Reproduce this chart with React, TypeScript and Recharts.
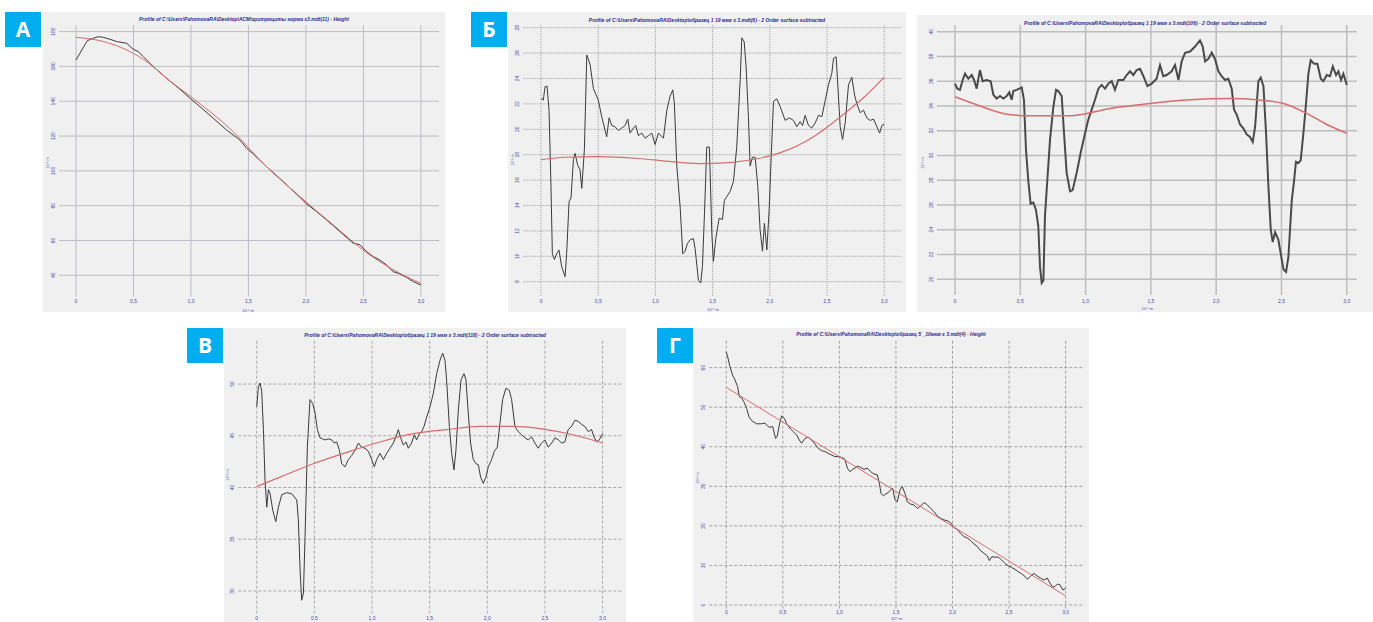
import React from "react";
import { LineChart, Line, XAxis, YAxis, CartesianGrid } from "recharts";

const xTicks = [0, 0.5, 1, 1.5, 2, 2.5, 3];

// А — эритроциты норма
const aYTicks = [40, 60, 80, 100, 120, 140, 160, 180];
const aBlackX = [0, 0.099, 0.151, 0.194, 0.238, 0.296, 0.354, 0.441, 0.499, 0.542, 0.586, 0.672, 0.788, 0.904, 1.0, 1.078, 1.194, 1.31, 1.426, 1.484, 1.542, 1.658, 1.803, 1.948, 2.006, 2.093, 2.18, 2.296, 2.412, 2.47, 2.528, 2.586, 2.643, 2.701, 2.759, 2.817, 2.875, 2.933, 3.0];
const aBlackY = [163.7, 174.8, 176.2, 177.1, 176.7, 175.6, 174.3, 173.3, 169.8, 168.5, 165.6, 159.9, 153.2, 146.9, 141.3, 136.9, 130.2, 123.5, 117.7, 113.0, 109.7, 102.4, 93.8, 84.8, 81.0, 76.6, 71.8, 65.1, 58.4, 57.5, 53.6, 50.7, 48.8, 45.9, 42.1, 40.8, 38.8, 36.4, 34.4];
const aRedX = [0, 0.209, 0.499, 0.672, 0.788, 1.0, 1.368, 1.658, 1.948, 2.238, 2.528, 2.817, 3.0];
const aRedY = [176.7, 174.8, 167.5, 159.9, 153.2, 142.6, 122.5, 102.4, 85.2, 68.9, 53.0, 41.1, 35.4];

// Б — образец 1, профиль 6
const bYTicks = [8, 10, 12, 14, 16, 18, 20, 22, 24, 26, 28];
const bBlackX = [0, 0.02, 0.035, 0.053, 0.07, 0.087, 0.099, 0.117, 0.137, 0.157, 0.18, 0.21, 0.224, 0.245, 0.262, 0.283, 0.297, 0.32, 0.341, 0.356, 0.379, 0.4, 0.429, 0.458, 0.501, 0.53, 0.574, 0.595, 0.618, 0.647, 0.676, 0.706, 0.735, 0.758, 0.778, 0.808, 0.828, 0.851, 0.88, 0.91, 0.939, 0.968, 0.997, 1.026, 1.07, 1.1, 1.128, 1.152, 1.166, 1.187, 1.216, 1.239, 1.259, 1.28, 1.303, 1.332, 1.347, 1.376, 1.396, 1.411, 1.429, 1.449, 1.472, 1.493, 1.507, 1.528, 1.557, 1.586, 1.603, 1.624, 1.653, 1.682, 1.711, 1.741, 1.755, 1.776, 1.793, 1.813, 1.828, 1.848, 1.872, 1.895, 1.915, 1.936, 1.953, 1.974, 1.994, 2.009, 2.032, 2.061, 2.09, 2.134, 2.169, 2.207, 2.236, 2.265, 2.286, 2.309, 2.338, 2.367, 2.397, 2.426, 2.455, 2.485, 2.513, 2.542, 2.557, 2.58, 2.595, 2.615, 2.636, 2.659, 2.688, 2.717, 2.741, 2.761, 2.79, 2.819, 2.848, 2.878, 2.907, 2.936, 2.96, 2.98, 3.0];
const bBlackY = [22.44, 22.3, 23.35, 23.4, 21.5, 15.5, 10.2, 9.75, 10.2, 10.5, 9.2, 8.4, 10.2, 14.3, 14.6, 17.6, 18.1, 17.2, 16.8, 15.35, 18.4, 25.85, 25.1, 23.2, 22.3, 21.0, 19.4, 20.9, 20.3, 20.2, 19.9, 20.1, 20.3, 20.8, 19.7, 20.1, 20.3, 19.5, 19.7, 19.3, 19.5, 19.7, 18.8, 19.7, 19.3, 21.5, 22.6, 23.1, 22.0, 17.1, 13.9, 10.2, 10.4, 11.0, 11.3, 11.4, 10.6, 8.1, 7.9, 9.2, 13.4, 18.6, 18.6, 11.8, 9.6, 11.4, 13.0, 12.9, 14.4, 14.7, 15.1, 15.9, 18.6, 23.9, 27.2, 26.9, 24.9, 21.0, 17.1, 17.8, 17.8, 15.5, 12.1, 10.4, 12.6, 10.5, 13.6, 17.1, 22.2, 22.4, 21.8, 20.7, 20.9, 20.7, 20.2, 20.6, 20.3, 21.1, 20.3, 20.1, 20.5, 21.1, 21.0, 22.3, 23.5, 24.4, 25.6, 25.7, 23.4, 20.2, 19.2, 20.5, 23.5, 24.1, 22.7, 22.0, 21.3, 21.5, 20.9, 20.7, 20.8, 20.2, 19.7, 20.3, 20.4];
const bRedX = [0, 0.21, 0.5, 0.85, 1.085, 1.376, 1.668, 1.9, 2.105, 2.397, 2.688, 2.834, 3.0];
const bRedY = [17.6, 17.8, 17.85, 17.7, 17.5, 17.3, 17.4, 17.7, 18.2, 19.5, 21.5, 22.6, 24.1];

// Б (справа) — образец 1, профиль 106
const cYTicks = [20, 22, 24, 26, 28, 30, 32, 34, 36, 38, 40];
const cBlackX = [0, 0.018, 0.038, 0.059, 0.077, 0.102, 0.128, 0.146, 0.166, 0.191, 0.212, 0.243, 0.273, 0.294, 0.319, 0.345, 0.37, 0.396, 0.416, 0.434, 0.447, 0.472, 0.511, 0.528, 0.544, 0.562, 0.579, 0.6, 0.62, 0.638, 0.651, 0.664, 0.677, 0.689, 0.707, 0.728, 0.753, 0.774, 0.791, 0.817, 0.835, 0.855, 0.881, 0.901, 0.932, 0.962, 0.996, 1.021, 1.047, 1.072, 1.098, 1.123, 1.149, 1.174, 1.2, 1.225, 1.251, 1.289, 1.315, 1.34, 1.366, 1.391, 1.417, 1.443, 1.473, 1.506, 1.544, 1.57, 1.595, 1.621, 1.659, 1.685, 1.711, 1.736, 1.762, 1.8, 1.838, 1.876, 1.897, 1.915, 1.94, 1.966, 1.991, 2.017, 2.042, 2.068, 2.093, 2.119, 2.137, 2.157, 2.183, 2.208, 2.234, 2.259, 2.28, 2.298, 2.323, 2.341, 2.362, 2.382, 2.4, 2.418, 2.433, 2.451, 2.476, 2.494, 2.515, 2.535, 2.553, 2.579, 2.596, 2.611, 2.63, 2.647, 2.668, 2.688, 2.706, 2.724, 2.75, 2.775, 2.801, 2.821, 2.847, 2.872, 2.893, 2.918, 2.936, 2.956, 2.974, 3.0];
const cBlackY = [35.8, 35.4, 35.3, 36.1, 36.6, 36.2, 36.5, 36.1, 35.4, 36.9, 36.0, 36.1, 36.0, 34.9, 34.6, 34.8, 34.6, 34.8, 35.1, 34.5, 35.2, 35.3, 35.5, 34.5, 30.4, 27.9, 26.1, 26.2, 25.6, 24.3, 21.0, 19.7, 19.9, 25.1, 28.0, 31.3, 33.9, 35.3, 35.2, 34.8, 31.8, 28.6, 27.1, 27.2, 28.6, 30.2, 31.8, 32.9, 33.7, 34.5, 35.4, 35.7, 35.4, 35.8, 36.0, 35.3, 36.1, 36.1, 36.5, 36.8, 36.5, 36.9, 37.0, 36.4, 35.6, 35.8, 36.2, 37.3, 36.4, 36.5, 36.8, 37.3, 36.1, 37.6, 38.3, 38.4, 38.8, 39.3, 38.8, 37.6, 37.8, 38.3, 37.8, 36.8, 36.4, 36.1, 36.2, 35.4, 33.7, 33.3, 32.5, 32.2, 31.7, 31.5, 31.1, 32.3, 36.0, 36.3, 35.6, 31.8, 27.5, 24.0, 23.0, 23.8, 23.2, 22.1, 20.8, 20.6, 21.8, 26.4, 27.9, 29.5, 29.4, 29.6, 31.8, 34.2, 36.6, 37.7, 37.4, 37.4, 36.2, 36.0, 36.5, 36.4, 37.2, 36.5, 36.8, 36.1, 36.6, 35.7];
const cRedX = [0, 0.166, 0.37, 0.574, 0.881, 1.187, 1.494, 1.8, 2.106, 2.31, 2.515, 2.693, 2.847, 3.0];
const cRedY = [34.75, 34.1, 33.4, 33.2, 33.2, 33.8, 34.2, 34.5, 34.6, 34.5, 34.2, 33.4, 32.5, 31.8];

// В — образец 1, профиль 118
const dYTicks = [30, 35, 40, 45, 50];
const dBlackX = [0, 0.014, 0.029, 0.043, 0.058, 0.072, 0.087, 0.101, 0.116, 0.139, 0.165, 0.188, 0.217, 0.26, 0.303, 0.347, 0.361, 0.376, 0.39, 0.405, 0.419, 0.439, 0.462, 0.486, 0.506, 0.526, 0.549, 0.572, 0.592, 0.621, 0.65, 0.673, 0.694, 0.717, 0.737, 0.766, 0.795, 0.824, 0.853, 0.882, 0.91, 0.939, 0.968, 0.997, 1.02, 1.04, 1.069, 1.098, 1.127, 1.156, 1.185, 1.208, 1.228, 1.249, 1.272, 1.295, 1.315, 1.344, 1.367, 1.387, 1.41, 1.431, 1.451, 1.474, 1.503, 1.532, 1.561, 1.59, 1.613, 1.633, 1.647, 1.671, 1.691, 1.711, 1.728, 1.749, 1.772, 1.798, 1.815, 1.835, 1.855, 1.879, 1.902, 1.922, 1.942, 1.965, 1.988, 2.009, 2.038, 2.061, 2.087, 2.11, 2.133, 2.162, 2.191, 2.211, 2.24, 2.269, 2.298, 2.327, 2.355, 2.384, 2.413, 2.442, 2.471, 2.5, 2.529, 2.558, 2.587, 2.616, 2.645, 2.673, 2.702, 2.731, 2.76, 2.789, 2.818, 2.847, 2.876, 2.905, 2.925, 2.948, 2.971, 3.0];
const dBlackY = [47.8, 49.7, 50.1, 49.3, 45.6, 40.7, 38.1, 39.8, 39.4, 37.8, 36.7, 38.1, 39.3, 39.5, 39.4, 38.8, 36.9, 32.0, 29.1, 29.8, 35.2, 43.9, 48.5, 48.1, 47.2, 45.6, 44.8, 44.7, 44.6, 44.7, 44.6, 44.3, 44.4, 43.6, 42.3, 42.0, 42.7, 43.1, 43.6, 44.3, 43.9, 43.8, 43.5, 42.7, 42.0, 42.7, 43.3, 42.7, 43.3, 43.8, 44.3, 44.9, 45.6, 44.8, 44.1, 44.4, 43.8, 44.3, 45.1, 44.6, 45.2, 45.4, 45.9, 46.8, 47.8, 49.1, 51.0, 52.3, 53.0, 52.3, 50.4, 45.9, 43.3, 41.7, 43.6, 47.5, 50.4, 51.0, 50.4, 47.2, 44.3, 42.7, 42.3, 42.2, 41.0, 40.4, 41.0, 42.0, 42.7, 43.5, 43.9, 46.2, 48.5, 49.6, 49.4, 48.5, 45.9, 45.4, 45.1, 44.8, 44.6, 44.9, 44.3, 43.8, 44.3, 44.6, 43.9, 44.3, 44.8, 44.6, 44.3, 44.4, 45.6, 45.9, 46.5, 46.4, 46.1, 45.9, 45.4, 45.6, 44.9, 44.4, 44.6, 45.2];
const dRedX = [0, 0.202, 0.491, 0.78, 1.069, 1.358, 1.647, 1.936, 2.225, 2.514, 2.746, 3.0];
const dRedY = [40.1, 41.0, 42.3, 43.4, 44.4, 45.2, 45.6, 45.9, 45.9, 45.6, 45.1, 44.3];

// Г — образец 5, профиль 4
const eYTicks = [0, 10, 20, 30, 40, 50, 60];
const eBlackX = [0, 0.012, 0.032, 0.056, 0.077, 0.1, 0.115, 0.136, 0.159, 0.18, 0.2, 0.224, 0.268, 0.312, 0.342, 0.363, 0.386, 0.41, 0.436, 0.451, 0.469, 0.489, 0.513, 0.533, 0.563, 0.592, 0.622, 0.645, 0.666, 0.696, 0.725, 0.755, 0.784, 0.813, 0.843, 0.872, 0.902, 0.931, 0.961, 0.99, 1.02, 1.049, 1.07, 1.093, 1.117, 1.138, 1.158, 1.188, 1.217, 1.247, 1.276, 1.306, 1.335, 1.353, 1.368, 1.388, 1.412, 1.432, 1.453, 1.471, 1.491, 1.512, 1.536, 1.556, 1.58, 1.6, 1.63, 1.659, 1.689, 1.718, 1.748, 1.777, 1.807, 1.836, 1.866, 1.895, 1.925, 1.954, 1.983, 2.013, 2.042, 2.072, 2.101, 2.131, 2.16, 2.19, 2.219, 2.249, 2.278, 2.308, 2.326, 2.346, 2.375, 2.405, 2.434, 2.464, 2.493, 2.523, 2.552, 2.582, 2.611, 2.641, 2.662, 2.691, 2.72, 2.75, 2.779, 2.809, 2.838, 2.862, 2.885, 2.906, 2.927, 2.95, 2.974, 3.0];
const eBlackY = [64.0, 62.8, 60.3, 58.1, 56.9, 55.2, 52.7, 52.3, 51.2, 49.7, 47.6, 46.6, 45.8, 45.8, 46.0, 45.3, 44.9, 45.1, 42.1, 42.7, 45.5, 47.8, 47.2, 45.9, 44.7, 43.8, 43.0, 41.7, 40.9, 42.1, 42.4, 41.7, 40.7, 39.6, 39.0, 38.8, 38.3, 37.9, 37.5, 37.5, 37.3, 36.8, 34.6, 33.7, 34.3, 34.6, 35.1, 34.8, 34.3, 34.6, 33.7, 33.1, 32.9, 30.8, 28.2, 27.6, 28.1, 28.4, 29.1, 29.5, 26.6, 26.1, 29.1, 29.9, 28.2, 26.1, 25.5, 25.3, 24.4, 25.0, 25.9, 25.3, 24.4, 23.6, 22.5, 21.9, 21.5, 21.3, 20.8, 19.6, 19.1, 18.1, 17.3, 16.9, 16.3, 15.4, 14.8, 13.7, 13.1, 12.4, 11.2, 12.2, 12.1, 12.1, 11.4, 10.5, 9.9, 9.5, 9.0, 8.4, 7.9, 7.2, 6.5, 7.3, 8.0, 7.3, 6.8, 6.3, 6.8, 5.5, 4.5, 4.7, 5.3, 5.1, 3.8, 4.2];
const eRedX = [0, 1.5, 3.0];
const eRedY = [55.0, 28.7, 2.3];

const TITLE_A = "Profile of C:\\Users\\PahomovaRA\\Desktop\\АСМ\\эритроциты норма x3.mdt(11) - Height";
const TITLE_B = "Profile of C:\\Users\\PahomovaRA\\Desktop\\образец 1 19 мкм x 3.mdt(6) - 2 Order surface subtracted";
const TITLE_C = "Profile of C:\\Users\\PahomovaRA\\Desktop\\образец 1 19 мкм x 3.mdt(106) - 2 Order surface subtracted";
const TITLE_D = "Profile of C:\\Users\\PahomovaRA\\Desktop\\образец 1 19 мкм x 3.mdt(118) - 2 Order surface subtracted";
const TITLE_E = "Profile of C:\\Users\\PahomovaRA\\Desktop\\образец 5 _10мкм x 3.mdt(4) - Height";

const pts = (xs: number[], ys: number[]) => xs.map((x, i) => ({ x, y: ys[i] }));
const fmtX = (v: number) => (v === 0 ? "0" : v.toFixed(1).replace(".", ","));

const TICK_COLOR = "#4a4aa8";
const FONT = "'Liberation Sans', Arial, sans-serif";

type Box = { l: number; t: number; r: number; b: number };

type PanelProps = {
  frame: Box;
  plot: Box;
  xDomain: [number, number];
  yDomain: [number, number];
  yTicks: number[];
  black: { x: number; y: number }[];
  red: { x: number; y: number }[];
  title: string;
  titleY: number;
  gridDash?: string;
  gridColor: string;
  gridWidth?: number;
  blackWidth?: number;
  blackColor?: string;
  redWidth?: number;
  xLabelDy: number;
  xUnit?: [number, number];
  yUnit: [number, number];
};

function Panel(p: PanelProps) {
  const w = p.frame.r - p.frame.l;
  const h = p.frame.b - p.frame.t;
  // axes take 1px each, so the plot box lands where the reference has it
  const margin = {
    top: p.plot.t - p.frame.t,
    left: p.plot.l - p.frame.l - 1,
    right: p.frame.r - p.plot.r,
    bottom: p.frame.b - p.plot.b - 1,
  };
  const pl = p.plot.l - p.frame.l;
  const pt = p.plot.t - p.frame.t;
  const pw = p.plot.r - p.plot.l;
  const ph = p.plot.b - p.plot.t;
  // grid only at the tick values (no frame lines at the plot edges)
  const gridH = () => p.yTicks.map((t) => pt + ((p.yDomain[1] - t) / (p.yDomain[1] - p.yDomain[0])) * ph);
  const gridV = () => xTicks.map((t) => pl + ((t - p.xDomain[0]) / (p.xDomain[1] - p.xDomain[0])) * pw);
  return (
    <div style={{ position: "absolute", left: p.frame.l, top: p.frame.t, width: w, height: h, background: "#f0f0f0", overflow: "hidden" }}>
      <LineChart width={w} height={h} margin={margin} style={{ position: "absolute", left: 0, top: 0 }}>
        <CartesianGrid
          stroke={p.gridColor}
          strokeWidth={p.gridWidth ?? 1}
          strokeDasharray={p.gridDash}
          horizontalCoordinatesGenerator={gridH}
          verticalCoordinatesGenerator={gridV}
        />
        <XAxis
          type="number" dataKey="x" domain={p.xDomain} ticks={xTicks} allowDataOverflow
          height={1} axisLine={false} tickLine={false} tickSize={0} tickMargin={0} interval={0}
          tick={({ x, y, payload }: any) => (
            <text x={x} y={y + p.xLabelDy - 1} textAnchor="middle" dominantBaseline="middle" fontSize={5} fontFamily={FONT} fill={TICK_COLOR}>
              {fmtX(payload.value)}
            </text>
          )}
        />
        <YAxis
          type="number" dataKey="y" domain={p.yDomain} ticks={p.yTicks} allowDataOverflow
          width={1} axisLine={false} tickLine={false} tickSize={0} tickMargin={0} interval={0}
          tick={({ x, y, payload }: any) => (
            <text x={x - 5.5} y={y} transform={`rotate(-90 ${x - 5.5} ${y})`} textAnchor="middle" dominantBaseline="middle" fontSize={5} fontFamily={FONT} fill={TICK_COLOR}>
              {payload.value}
            </text>
          )}
        />
        <Line data={p.black} dataKey="y" type="linear" stroke={p.blackColor ?? "#3a3a3a"} strokeWidth={p.blackWidth ?? 1} dot={false} isAnimationActive={false} />
        <Line data={p.red} dataKey="y" type="monotone" stroke="#d86c6c" strokeWidth={p.redWidth ?? 1} dot={false} isAnimationActive={false} />
      </LineChart>
      <div
        style={{
          position: "absolute", left: 0, width: w, top: p.titleY - p.frame.t - 3, textAlign: "center",
          fontFamily: FONT, fontSize: 5, fontWeight: "bold", fontStyle: "italic", color: "#2a2a90", lineHeight: "6px", whiteSpace: "nowrap",
        }}
      >
        {p.title}
      </div>
      {p.xUnit && (
        <div style={{ position: "absolute", left: p.xUnit[0] - p.frame.l, top: p.xUnit[1] - p.frame.t, transform: "translate(-50%,-50%)", fontFamily: FONT, fontSize: 4, color: TICK_COLOR, whiteSpace: "nowrap" }}>
          10⁻⁶ m
        </div>
      )}
      <div style={{ position: "absolute", left: p.yUnit[0] - p.frame.l, top: p.yUnit[1] - p.frame.t, transform: "translate(-50%,-50%) rotate(-90deg)", fontFamily: FONT, fontSize: 4, color: TICK_COLOR, whiteSpace: "nowrap" }}>
        10⁻⁹ m
      </div>
    </div>
  );
}

function Tag({ l, t, text }: { l: number; t: number; text: string }) {
  return (
    <div
      style={{
        position: "absolute", left: l, top: t, width: 36, height: 35, background: "#00aeef", color: "#fff",
        fontFamily: "'Open Sans', 'Noto Sans', sans-serif", fontWeight: "bold", fontSize: 21, lineHeight: "35px", textAlign: "center",
      }}
    >
      {text}
    </div>
  );
}

export default function App() {
  return (
    <div style={{ position: "absolute", left: 0, top: 0, width: 1373, height: 622, background: "#fff", overflow: "hidden" }}>
      <Tag l={5} t={12} text="А" />
      <Panel
        frame={{ l: 43, t: 12, r: 445, b: 312 }} plot={{ l: 59.3, t: 25, r: 439.3, b: 296.7 }}
        xDomain={[-0.145, 3.16]} yDomain={[27.7, 183.8]} yTicks={aYTicks}
        black={pts(aBlackX, aBlackY)} red={pts(aRedX, aRedY)} title={TITLE_A} titleY={19}
        gridColor="#bcbcc4" xLabelDy={6.3} xUnit={[248, 310]} yUnit={[46.7, 163]}
      />
      <Tag l={471} t={12} text="Б" />
      <Panel
        frame={{ l: 508, t: 12, r: 906, b: 312 }} plot={{ l: 523.3, t: 25, r: 901.7, b: 296.7 }}
        xDomain={[-0.155, 3.153]} yDomain={[6.82, 28.21]} yTicks={bYTicks}
        black={pts(bBlackX, bBlackY)} red={pts(bRedX, bRedY)} title={TITLE_B} titleY={19.7}
        gridColor="#a0a0a0" gridDash="1 1" redWidth={1.2} xLabelDy={6} xUnit={[713, 308.5]} yUnit={[511.7, 160]}
      />
      <Panel
        frame={{ l: 917, t: 15, r: 1373, b: 312 }} plot={{ l: 936.7, t: 25, r: 1356.7, b: 295 }}
        xDomain={[-0.14, 3.076]} yDomain={[18.73, 40.54]} yTicks={cYTicks}
        black={pts(cBlackX, cBlackY)} red={pts(cRedX, cRedY)} title={TITLE_C} titleY={22.7}
        gridColor="#bdbdbd" gridWidth={1.5} blackWidth={2} blackColor="#4a4a4a" redWidth={1.5}
        xLabelDy={7.7} xUnit={[1147.3, 308.3]} yUnit={[921.7, 163.3]}
      />
      <Tag l={187} t={328} text="В" />
      <Panel
        frame={{ l: 224, t: 328, r: 626, b: 622 }} plot={{ l: 238.3, t: 340.7, r: 621.7, b: 613.3 }}
        xDomain={[-0.16, 3.166]} yDomain={[27.84, 54.19]} yTicks={dYTicks}
        black={pts(dBlackX, dBlackY)} red={pts(dRedX, dRedY)} title={TITLE_D} titleY={335}
        gridColor="#a8a8a8" gridDash="3 2" redWidth={1.2} xLabelDy={6.7} yUnit={[226.7, 475]}
      />
      <Tag l={657} t={328} text="Г" />
      <Panel
        frame={{ l: 693, t: 328, r: 1089, b: 622 }} plot={{ l: 709.3, t: 340.7, r: 1083.3, b: 610 }}
        xDomain={[-0.15, 3.156]} yDomain={[-1.26, 66.8]} yTicks={eYTicks}
        black={pts(eBlackX, eBlackY)} red={pts(eRedX, eRedY)} title={TITLE_E} titleY={334}
        gridColor="#a0a0a0" gridDash="3 2" xLabelDy={4} xUnit={[896.7, 618]} yUnit={[696.7, 478.3]}
      />
    </div>
  );
}
